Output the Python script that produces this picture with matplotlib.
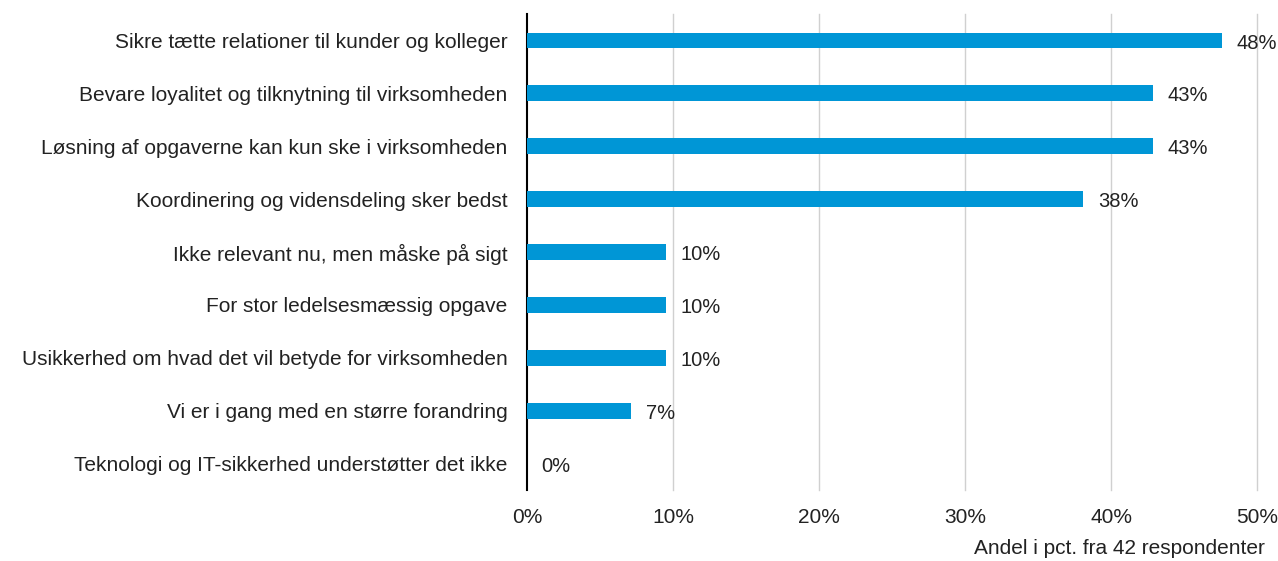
import matplotlib.pyplot as plt

plt.rcParams['font.family'] = ['Liberation Sans', 'DejaVu Sans']

# Data: share of 42 respondents
categories = [
    "Sikre tætte relationer til kunder og kolleger",
    "Bevare loyalitet og tilknytning til virksomheden",
    "Løsning af opgaverne kan kun ske i virksomheden",
    "Koordinering og vidensdeling sker bedst",
    "Ikke relevant nu, men måske på sigt",
    "For stor ledelsesmæssig opgave",
    "Usikkerhed om hvad det vil betyde for virksomheden",
    "Vi er i gang med en større forandring",
    "Teknologi og IT-sikkerhed understøtter det ikke",
]
counts = [20, 18, 18, 16, 4, 4, 4, 3, 0]
n_resp = 42
shares = [c / n_resp * 100 for c in counts]
x_ticks = [0, 10, 20, 30, 40, 50]

fig = plt.figure(figsize=(12.78, 5.61), dpi=100)
ax = fig.add_axes([0.4124, 0.1266, 0.5712, 0.8484])

ypos = list(range(len(categories)))
ax.barh(ypos, shares, height=0.3, color="#0096D6", zorder=3)

for y, v in zip(ypos, shares):
    ax.text(v + 1.0, y + 0.05, f"{v:.0f}%", va="center", ha="left",
            fontsize=14.5, color="#222222")

ax.set_yticks(ypos)
ax.set_yticklabels(categories, fontsize=15, color="#222222")
ax.set_ylim(len(categories) - 0.5, -0.5)

ax.set_xlim(0, 50)
ax.set_xticks(x_ticks)
ax.set_xticklabels([f"{t}%" for t in x_ticks], fontsize=15, color="#222222")
ax.tick_params(axis="both", length=0)
ax.tick_params(axis="y", pad=14)
ax.tick_params(axis="x", pad=13)

for t in x_ticks[1:]:
    ax.axvline(t, color="#d0d0d0", linewidth=1, zorder=1, clip_on=False)

for side in ["top", "right", "bottom"]:
    ax.spines[side].set_visible(False)
ax.spines["left"].set_color("black")
ax.spines["left"].set_linewidth(1.5)

fig.text(0.99, 0.005, "Andel i pct. fra 42 respondenter", ha="right", va="bottom",
         fontsize=15, color="#222222")

fig.savefig("out.png", dpi=100)
